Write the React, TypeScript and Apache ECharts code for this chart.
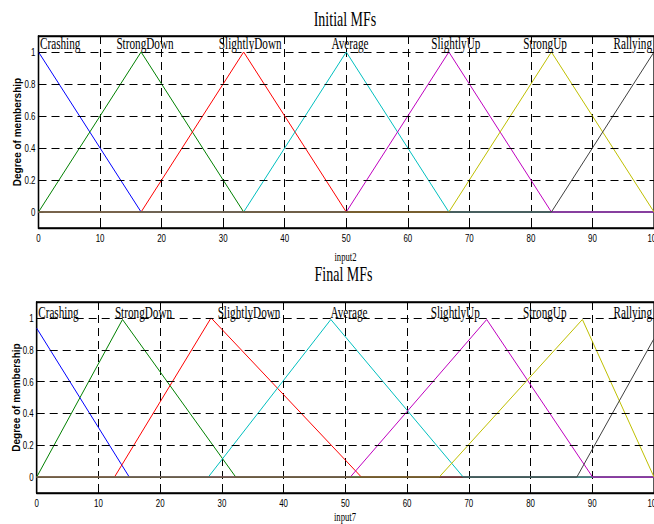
import React, { useEffect, useRef } from "react";
import * as echarts from "echarts";

const mfNames = ["Crashing", "StrongDown", "SlightlyDown", "Average", "SlightlyUp", "StrongUp", "Rallying"];
const mfColors = ["#0000ff", "#008000", "#ff0000", "#00bfbf", "#bf00bf", "#bfbf00", "#404040"];

// Initial MFs: vertices [x, degree]
const initialCrashing = [[0, 1], [16.67, 0], [100, 0]];
const initialStrongDown = [[0, 0], [16.67, 1], [33.33, 0], [100, 0]];
const initialSlightlyDown = [[0, 0], [16.67, 0], [33.33, 1], [50, 0], [100, 0]];
const initialAverage = [[0, 0], [33.33, 0], [50, 1], [66.67, 0], [100, 0]];
const initialSlightlyUp = [[0, 0], [50, 0], [66.67, 1], [83.33, 0], [100, 0]];
const initialStrongUp = [[0, 0], [66.67, 0], [83.33, 1], [100, 0]];
const initialRallying = [[0, 0], [83.33, 0], [100, 1]];

// Final MFs
const finalCrashing = [[0, 0.935], [15, 0], [100, 0]];
const finalStrongDown = [[0, 0], [13.9, 0.99], [32.25, 0], [100, 0]];
const finalSlightlyDown = [[0, 0], [12.6, 0], [28.25, 1], [52.6, 0], [100, 0]];
const finalAverage = [[0, 0], [27.8, 0], [47.65, 0.99], [69.1, 0], [100, 0]];
const finalSlightlyUp = [[0, 0], [50.8, 0], [72.9, 0.99], [90.05, 0], [100, 0]];
const finalStrongUp = [[0, 0], [65.2, 0], [88.4, 0.99], [100, 0]];
const finalRallying = [[0, 0], [87.5, 0], [100, 0.87]];

const initialMFs = [initialCrashing, initialStrongDown, initialSlightlyDown, initialAverage, initialSlightlyUp, initialStrongUp, initialRallying];
const finalMFs = [finalCrashing, finalStrongDown, finalSlightlyDown, finalAverage, finalSlightlyUp, finalStrongUp, finalRallying];

// MF label anchors (x in input units)
const labelX = [0, 17.3, 34.4, 50.6, 67.8, 82.3, 100];
const labelYInitial = 1.05;
const labelYFinal = 1.03;

const xTickValues = [0, 10, 20, 30, 40, 50, 60, 70, 80, 90, 100];
const yTickValues = [0, 0.2, 0.4, 0.6, 0.8, 1];
const yGridValues = [0.2, 0.4, 0.6, 0.8, 1];
const yMin = -0.1;
const yMax = 1.1;

const titles = ["Initial MFs", "Final MFs"];
const xNames = ["input2", "input7"];
const yName = "Degree of membership";

const sans = "'Liberation Sans', Arial, sans-serif";
const serif = "'Liberation Serif', 'Times New Roman', serif";

function mkX(gridIndex: number, position: string, main: boolean) {
  return {
    type: "value",
    gridIndex,
    position,
    min: 0,
    max: 100,
    interval: 10,
    axisLine: { show: true, onZero: false, lineStyle: { color: "#000", width: 1.3 } },
    axisTick: { show: true, inside: true, length: 5, lineStyle: { color: "#000", width: 1 } },
    axisLabel: { show: false },
    splitLine: { show: main, lineStyle: { color: "#000", type: [8, 5], width: 1 } },
  };
}

function mkY(gridIndex: number) {
  return {
    type: "value",
    gridIndex,
    min: yMin,
    max: yMax,
    axisLine: { show: true, onZero: false, lineStyle: { color: "#000", width: 1.3 } },
    axisTick: { show: true, inside: true, length: 5, customValues: yTickValues, lineStyle: { color: "#000" } },
    axisLabel: { show: false },
    splitLine: { show: false },
  };
}

function mfSeries(sets: number[][][], axisIdx: number, yIdx: number) {
  return sets.map((d, i) => {
    const s: any = {
      type: "line",
      name: mfNames[i],
      xAxisIndex: axisIdx,
      yAxisIndex: yIdx,
      data: d,
      symbol: "none",
      showSymbol: false,
      lineStyle: { color: mfColors[i], width: 1 },
      itemStyle: { color: mfColors[i] },
      silent: true,
    };
    if (i === 0) {
      s.markLine = {
        silent: true,
        symbol: "none",
        label: { show: false },
        lineStyle: { color: "#000", type: [8, 5], width: 1 },
        data: yGridValues.map((v) => ({ yAxis: v })),
      };
    }
    return s;
  });
}

function labelSeries(axisIdx: number, yIdx: number, ly: number) {
  return {
    type: "custom",
    xAxisIndex: axisIdx,
    yAxisIndex: yIdx,
    clip: false,
    silent: true,
    data: labelX.map((x) => [x, ly]),
    renderItem: (params: any, api: any) => {
      const i = params.dataIndex;
      const p = api.coord([api.value(0), api.value(1)]);
      const last = labelX.length - 1;
      const align = i === 0 ? "left" : i === last ? "right" : "center";
      return {
        type: "text",
        x: p[0] + (i === 0 ? 1.5 : i === last ? -2 : 0),
        y: p[1],
        scaleX: 0.7,
        style: { text: mfNames[i], fill: "#000", fontFamily: serif, fontSize: 16, align, verticalAlign: "middle" },
      };
    },
  };
}

// tick labels drawn through the axes' scales, condensed like the original
function xTickLabelSeries(axisIdx: number, yIdx: number) {
  return {
    type: "custom",
    xAxisIndex: axisIdx,
    yAxisIndex: yIdx,
    clip: false,
    silent: true,
    data: xTickValues.map((v) => [v, yMin]),
    renderItem: (params: any, api: any) => {
      const p = api.coord([api.value(0), api.value(1)]);
      return {
        type: "text",
        x: p[0],
        y: p[1] + 10,
        scaleX: 0.72,
        style: { text: String(api.value(0)), fill: "#000", fontFamily: sans, fontSize: 11, align: "center", verticalAlign: "middle" },
      };
    },
  };
}

function yTickLabelSeries(axisIdx: number, yIdx: number) {
  return {
    type: "custom",
    xAxisIndex: axisIdx,
    yAxisIndex: yIdx,
    clip: false,
    silent: true,
    data: yTickValues.map((v) => [0, v]),
    renderItem: (params: any, api: any) => {
      const p = api.coord([api.value(0), api.value(1)]);
      const v = api.value(1);
      return {
        type: "text",
        x: p[0] - 3,
        y: p[1],
        scaleX: 0.72,
        style: { text: String(Math.round(v * 10) / 10), fill: "#000", fontFamily: sans, fontSize: 11, align: "right", verticalAlign: "middle" },
      };
    },
  };
}

export default function App() {
  const ref = useRef<HTMLDivElement>(null);
  useEffect(() => {
    document.body.style.margin = "0";
    const chart = echarts.init(ref.current!, null, { renderer: "svg" });
    const gridBase = { right: 0, show: true, borderColor: "#000", borderWidth: 1.3, backgroundColor: "transparent", containLabel: false, outerBoundsMode: "none" };
    const option: any = {
      animation: false,
      backgroundColor: "#fff",
      grid: [
        { ...gridBase, left: 38.5, top: 36, height: 192 },
        { ...gridBase, left: 36.7, top: 302, height: 191 },
      ],
      xAxis: [mkX(0, "bottom", true), mkX(0, "top", false), mkX(1, "bottom", true), mkX(1, "top", false)],
      yAxis: [mkY(0), mkY(1)],
      series: [
        ...mfSeries(initialMFs, 0, 0),
        labelSeries(0, 0, labelYInitial),
        xTickLabelSeries(0, 0),
        yTickLabelSeries(0, 0),
        ...mfSeries(finalMFs, 2, 1),
        labelSeries(2, 1, labelYFinal),
        xTickLabelSeries(2, 1),
        yTickLabelSeries(2, 1),
      ],
      graphic: [
        { type: "text", x: 345, y: 19.5, scaleX: 0.7, style: { text: titles[0], fill: "#000", fontFamily: serif, fontSize: 20, align: "center", verticalAlign: "middle" } },
        { type: "text", x: 343.5, y: 274.5, scaleX: 0.7, style: { text: titles[1], fill: "#000", fontFamily: serif, fontSize: 20, align: "center", verticalAlign: "middle" } },
        { type: "text", x: 345.5, y: 257, scaleX: 0.72, style: { text: xNames[0], fill: "#000", fontFamily: serif, fontSize: 12, align: "center", verticalAlign: "middle" } },
        { type: "text", x: 345, y: 517, scaleX: 0.72, style: { text: xNames[1], fill: "#000", fontFamily: serif, fontSize: 12, align: "center", verticalAlign: "middle" } },
        { type: "text", x: 17, y: 132, rotation: Math.PI / 2, style: { text: yName, fill: "#000", fontFamily: sans, fontWeight: "bold", fontSize: 10, align: "center", verticalAlign: "middle" } },
        { type: "text", x: 16, y: 397.5, rotation: Math.PI / 2, style: { text: yName, fill: "#000", fontFamily: sans, fontWeight: "bold", fontSize: 10, align: "center", verticalAlign: "middle" } },
      ],
    };
    chart.setOption(option);
    return () => chart.dispose();
  }, []);
  return <div ref={ref} style={{ position: "absolute", left: 0, top: 0, width: 654, height: 524 }} />;
}
